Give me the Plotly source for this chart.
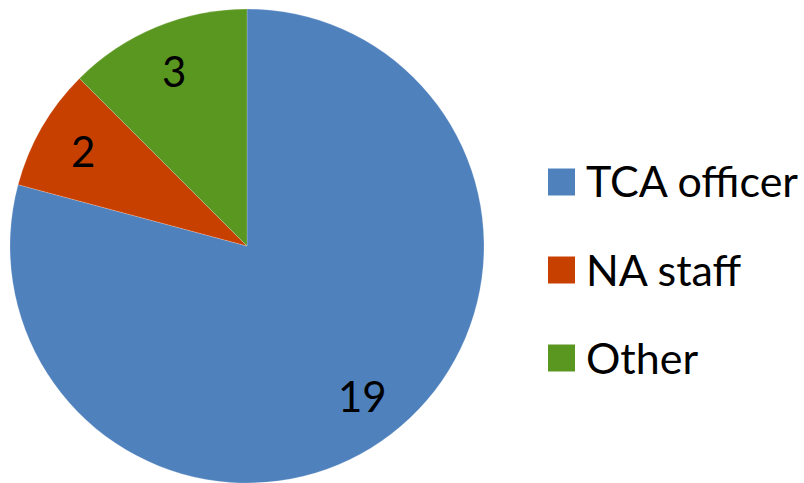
import math
import plotly.graph_objects as go

categories = ["TCA officer", "NA staff", "Other"]
values = [19, 2, 3]
colors = ["#4F81BD", "#C84000", "#5A9720"]

W, H = 804, 483
FONT = "Lato"
FS = 43

fig = go.Figure()
# pie domain in pixels
x0, x1 = 10, 484
y0, y1 = 0, 474
fig.add_trace(go.Pie(
    labels=categories, values=values, sort=False, direction="clockwise",
    rotation=0, marker=dict(colors=colors, line=dict(width=0.5, color="rgba(255,255,255,0.4)")),
    textinfo="none", hoverinfo="label+value", showlegend=False,
    domain=dict(x=[x0 / W, x1 / W], y=[y0 / H, y1 / H]),
))

# data labels placed at 0.8 of radius at slice mid-angle
cx, cy = (x0 + x1) / 2, (y0 + y1) / 2  # paper px from bottom
R = (x1 - x0) / 2
total = sum(values)
cum = 0
for v in values:
    mid = (cum + v / 2) / total * 360
    cum += v
    ang = math.radians(90 - mid)
    px = cx + 0.80 * R * math.cos(ang)
    py = cy + 0.80 * R * math.sin(ang)
    fig.add_annotation(x=px / W, y=py / H, xref="paper", yref="paper", text=str(v),
                       showarrow=False, font=dict(family=FONT, size=FS - 1, color="black"),
                       xanchor="center", yanchor="middle")

# manual legend
leg_y = [182, 270, 358]  # px from top
for name, col, yy in zip(categories, colors, leg_y):
    yb = H - yy
    fig.add_shape(type="rect", xref="paper", yref="paper",
                  x0=548 / W, x1=575 / W, y0=(yb - 13.5) / H, y1=(yb + 13.5) / H,
                  fillcolor=col, line=dict(width=0))
    fig.add_annotation(x=584 / W, y=(yb + 1) / H, xref="paper", yref="paper", text=name,
                       showarrow=False, font=dict(family=FONT, size=FS, color="black"),
                       xanchor="left", yanchor="middle")

fig.update_layout(width=W, height=H, margin=dict(l=0, r=0, t=0, b=0),
                  paper_bgcolor="white", plot_bgcolor="white", showlegend=False)
fig.write_html("out.html", config={"displayModeBar": False},
               post_script="document.body.style.margin='0';")
